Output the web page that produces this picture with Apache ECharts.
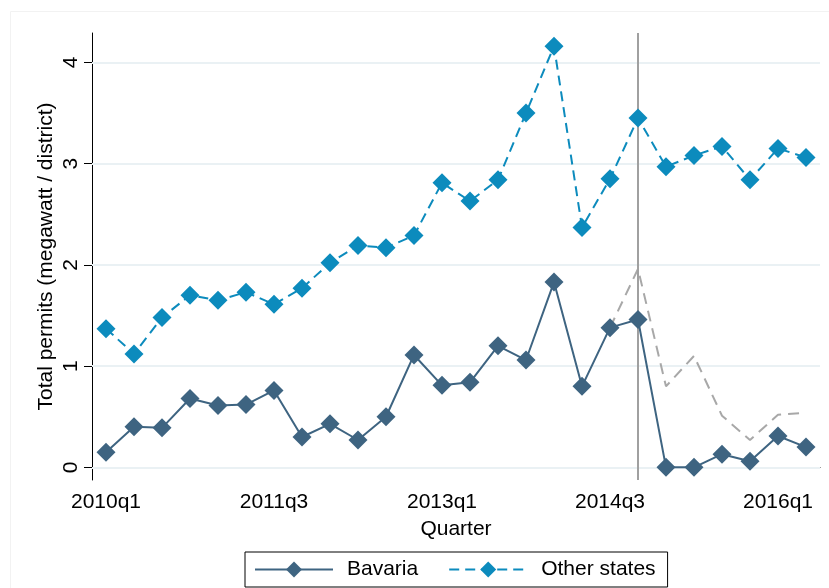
<!DOCTYPE html>
<html>
<head>
<meta charset="utf-8">
<script src="https://cdn.jsdelivr.net/npm/echarts@6/dist/echarts.min.js"></script>
<style>html,body{margin:0;padding:0;background:#fff;}#c{width:829px;height:588px;}</style>
</head>
<body>
<div id="c"></div>
<script>
const quarters = ['2010q1','2010q2','2010q3','2010q4','2011q1','2011q2','2011q3','2011q4','2012q1','2012q2','2012q3','2012q4','2013q1','2013q2','2013q3','2013q4','2014q1','2014q2','2014q3','2014q4','2015q1','2015q2','2015q3','2015q4','2016q1','2016q2'];
const bavaria = [0.15,0.40,0.39,0.68,0.61,0.62,0.76,0.30,0.43,0.27,0.50,1.11,0.81,0.84,1.20,1.06,1.83,0.80,1.38,1.46,0.00,0.00,0.13,0.06,0.31,0.20];
const otherStates = [1.37,1.12,1.48,1.70,1.65,1.73,1.61,1.77,2.02,2.19,2.17,2.29,2.81,2.63,2.84,3.50,4.16,2.37,2.85,3.45,2.97,3.08,3.17,2.84,3.15,3.06];
const counterfactual = [null,null,null,null,null,null,null,null,null,null,null,null,null,null,null,null,null,null,1.38,1.96,0.80,1.10,0.51,0.27,0.52,0.54];
const yTicks = [0,1,2,3,4];
const treatQuarter = '2014q4';

const font = 'Liberation Sans, Arial, sans-serif';
const fs = 21;
const chart = echarts.init(document.getElementById('c'));
chart.setOption({
  animation: false,
  backgroundColor: '#fff',
  graphic: [{
    type: 'rect', shape: {x: 10.5, y: 11.5, width: 830, height: 600},
    style: {fill: null, stroke: '#f2f2f2', lineWidth: 1}, silent: true, z: -1
  }],
  grid: {left: 92, right: 9, top: 33, bottom: 108, containLabel: false},
  legend: {
    bottom: 1, left: 245,
    data: ['Bavaria', 'Other states'],
    itemWidth: 78, itemHeight: 20, itemGap: 30,
    padding: [7, 12, 7, 9],
    borderColor: '#000', borderWidth: 1,
    textStyle: {fontFamily: font, fontSize: fs, color: '#000', padding: [0, 0, 0, 9]}
  },
  xAxis: {
    type: 'category', data: quarters, boundaryGap: true,
    name: 'Quarter', nameLocation: 'middle', nameGap: 39, nameMoveOverlap: false,
    nameTextStyle: {fontFamily: font, fontSize: fs, color: '#000'},
    axisLine: {lineStyle: {color: '#000', width: 1}},
    axisTick: {alignWithLabel: true, interval: 5, length: 8, lineStyle: {color: '#000'}},
    axisLabel: {interval: 5, fontFamily: font, fontSize: fs, color: '#000', margin: 12},
    splitLine: {show: false}
  },
  yAxis: {
    type: 'value', min: -0.125, max: 4.29,
    name: 'Total permits (megawatt / district)', nameLocation: 'middle', nameGap: 35, nameMoveOverlap: false,
    nameTextStyle: {fontFamily: font, fontSize: fs, color: '#000'},
    axisLine: {show: true, lineStyle: {color: '#000', width: 1}},
    axisTick: {show: true, length: 8, customValues: yTicks, lineStyle: {color: '#000'}},
    axisLabel: {rotate: 90, customValues: yTicks, fontFamily: font, fontSize: fs, color: '#000', margin: 10},
    splitLine: {show: false}
  },
  series: [
    {
      name: 'Bavaria', type: 'line', data: bavaria,
      symbol: 'diamond', symbolSize: 19, showAllSymbol: true,
      itemStyle: {color: '#3e6481'},
      lineStyle: {color: '#3e6481', width: 2},
      z: 5,
      markLine: {
        silent: true, symbol: 'none', label: {show: false},
        lineStyle: {color: '#eaf1f4', width: 2, type: 'solid'},
        data: yTicks.map(v => ({yAxis: v})),
        z: 1
      }
    },
    {
      name: 'Other states', type: 'line', data: otherStates,
      symbol: 'diamond', symbolSize: 19, showAllSymbol: true,
      itemStyle: {color: '#0c8bbd'},
      lineStyle: {color: '#0c8bbd', width: 2, type: [10, 6]},
      z: 5,
      markLine: {
        silent: true, symbol: 'none', label: {show: false},
        lineStyle: {color: '#a0a0a0', width: 2, type: 'solid'},
        data: [{xAxis: treatQuarter}],
        z: 3
      }
    },
    {
      name: 'Counterfactual', type: 'line', data: counterfactual,
      symbol: 'none', connectNulls: false,
      lineStyle: {color: '#a8a8a8', width: 2, type: [11, 7]},
      z: 2
    }
  ]
});
</script>
</body>
</html>
